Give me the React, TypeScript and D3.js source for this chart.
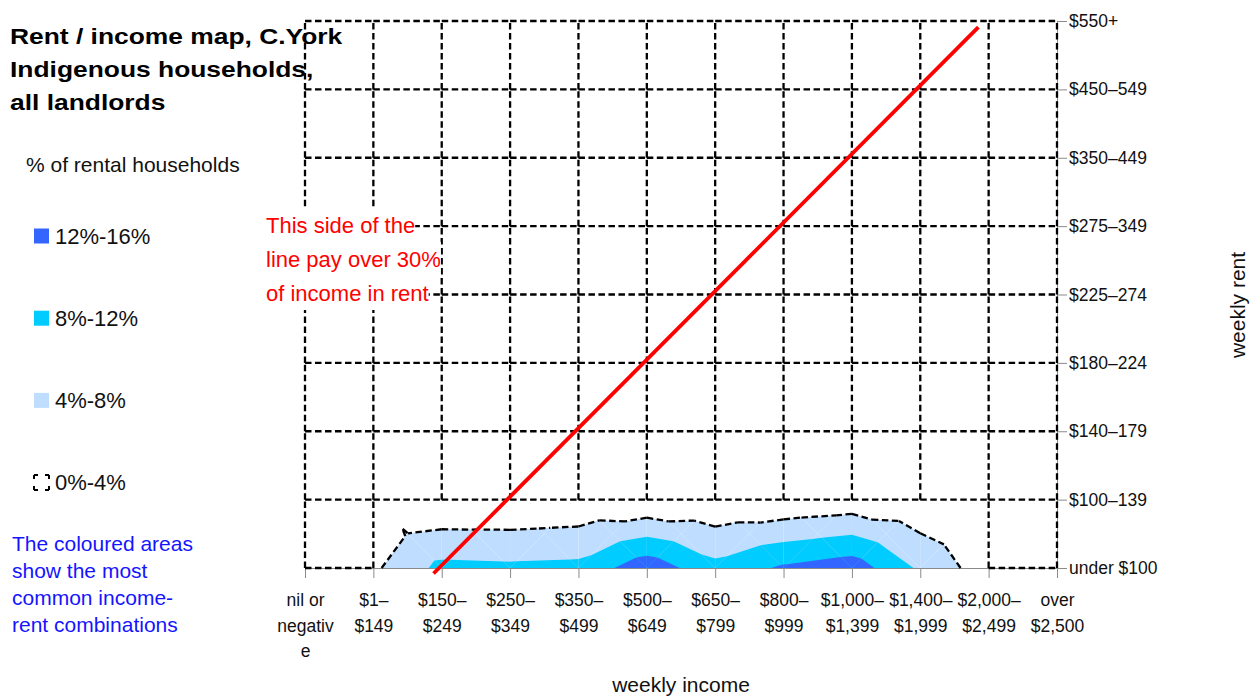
import React, { useEffect, useRef } from "react";
import * as d3 from "d3";

// weekly income bands (x) – each label split into the lines it wraps to
const incomeLabels = [
  ["nil or", "negativ", "e"],
  ["$1–", "$149"],
  ["$150–", "$249"],
  ["$250–", "$349"],
  ["$350–", "$499"],
  ["$500–", "$649"],
  ["$650–", "$799"],
  ["$800–", "$999"],
  ["$1,000–", "$1,399"],
  ["$1,400–", "$1,999"],
  ["$2,000–", "$2,499"],
  ["over", "$2,500"],
];

// weekly rent bands (y), bottom to top
const rentLabels = [
  "under $100",
  "$100–139",
  "$140–179",
  "$180–224",
  "$225–274",
  "$275–349",
  "$350–449",
  "$450–549",
  "$550+",
];

// % of rental households per income band, one array per rent band
const rentUnder100 = [0.6, 3.3, 9.1, 8.8, 9.1, 14.6, 9.2, 12.6, 14.3, 7.3, 1.7, 0.4];
const rent100to139 = [0.2, 3.7, 0.1, 0.2, 0.7, 0.2, 0.6, 0.5, 1.3, 0.8, 0.3, 0.1];
const rent140to179 = [0.1, 0.4, 0.2, 0.3, 0.4, 0.3, 0.2, 0.3, 0.4, 0.2, 0.1, 0.0];
const rent180to224 = [0.0, 0.2, 0.2, 0.2, 0.3, 0.2, 0.2, 0.2, 0.3, 0.2, 0.1, 0.0];
const rent225to274 = [0.0, 0.1, 0.1, 0.2, 0.2, 0.2, 0.1, 0.2, 0.2, 0.1, 0.1, 0.0];
const rent275to349 = [0.0, 0.1, 0.1, 0.1, 0.1, 0.1, 0.1, 0.1, 0.2, 0.1, 0.0, 0.0];
const rent350to449 = [0.0, 0.0, 0.0, 0.1, 0.1, 0.1, 0.1, 0.1, 0.1, 0.1, 0.0, 0.0];
const rent450to549 = [0.0, 0.0, 0.0, 0.0, 0.0, 0.0, 0.1, 0.0, 0.1, 0.0, 0.0, 0.0];
const rent550plus = [0.0, 0.0, 0.0, 0.0, 0.0, 0.0, 0.0, 0.0, 0.0, 0.1, 0.0, 0.0];

// contour bands
const bandLabels = ["12%-16%", "8%-12%", "4%-8%", "0%-4%"];
const bandThresholds = [12, 8, 4, 0];

// the 30% of income line, in (income band, rent band) units
const thirtyPctLine = [
  [1.88, -0.08],
  [9.85, 7.91],
];

const titleLines = ["Rent / income map, C.York", "Indigenous households,", "all landlords"];
const noteLines = ["This side of the", "line pay over 30%", "of income in rent"];
const infoLines = ["The coloured areas", "show the most", "common income-", "rent combinations"];

const FONT = "'Liberation Sans', Arial, Helvetica, sans-serif";

type P = [number, number, number];

export default function App() {
  const ref = useRef<SVGSVGElement>(null);
  const width = 1252;
  const height = 696;

  useEffect(() => {
    const svg = d3.select(ref.current);
    svg.selectAll("*").remove();

    const plot = { left: 305, right: 1057, top: 21, bottom: 568 };
    const nx = incomeLabels.length;
    const ny = rentLabels.length;
    const x = d3.scaleLinear().domain([0, nx - 1]).range([plot.left, plot.right]);
    const y = d3.scaleLinear().domain([0, ny - 1]).range([plot.bottom, plot.top]);

    const grid = [
      rentUnder100, rent100to139, rent140to179, rent180to224, rent225to274,
      rent275to349, rent350to449, rent450to549, rent550plus,
    ];
    const pt = (i: number, j: number): P => [i, j, grid[j][i]];

    // split each cell in four triangles round its centre (average of corners)
    const triangles: P[][] = [];
    for (let j = 0; j < ny - 1; j++) {
      for (let i = 0; i < nx - 1; i++) {
        const a = pt(i, j), b = pt(i + 1, j), c = pt(i + 1, j + 1), d = pt(i, j + 1);
        const mid: P = [i + 0.5, j + 0.5, (a[2] + b[2] + c[2] + d[2]) / 4];
        triangles.push([a, b, mid], [b, c, mid], [c, d, mid], [d, a, mid]);
      }
    }

    const lerp = (p: P, q: P, t: number): P => {
      const f = (t - p[2]) / (q[2] - p[2]);
      return [p[0] + f * (q[0] - p[0]), p[1] + f * (q[1] - p[1]), t];
    };
    const clip = (poly: P[], t: number, above: boolean): P[] => {
      const inside = (p: P) => (above ? p[2] >= t : p[2] < t);
      const out: P[] = [];
      poly.forEach((cur, k) => {
        const nxt = poly[(k + 1) % poly.length];
        if (inside(cur)) out.push(cur);
        if (inside(cur) !== inside(nxt)) out.push(lerp(cur, nxt, t));
      });
      return out;
    };

    const line = d3.line<P | number[]>().x((p) => x(p[0])).y((p) => y(p[1]));

    // ---------- filled bands ----------
    const bandColor: Record<number, string> = { 4: "#bfdeff", 8: "#00ccff", 12: "#3366ff" };
    [4, 8, 12].forEach((t) => {
      svg.append("g")
        .selectAll("path")
        .data(triangles.map((tr) => clip(tr, t, true)).filter((p) => p.length >= 3))
        .join("path")
        .attr("d", (p) => line(p) + "Z")
        .attr("fill", bandColor[t]);
    });

    // ---------- axes ----------
    const xAxis = svg.append("g")
      .attr("transform", `translate(0,${plot.bottom})`)
      .call(d3.axisBottom(x).tickValues(d3.range(nx)).tickSize(10).tickSizeOuter(0).tickFormat(() => ""));
    xAxis.selectAll(".domain, line").attr("stroke", "#8a8a8a");
    xAxis.selectAll(".tick text").remove();
    xAxis.selectAll<SVGGElement, number>(".tick")
      .append("text")
      .attr("fill", "#111")
      .attr("text-anchor", "middle")
      .attr("font-family", FONT)
      .attr("font-size", 17.5)
      .selectAll("tspan")
      .data((d) => incomeLabels[d])
      .join("tspan")
      .attr("x", 0)
      .attr("y", (_, k) => 38 + k * 25.5)
      .text((s) => s);

    const yAxis = svg.append("g")
      .attr("transform", `translate(${plot.right},0)`)
      .call(d3.axisRight(y).tickValues(d3.range(ny)).tickSize(10).tickSizeOuter(0).tickFormat((d) => rentLabels[d as number]));
    yAxis.selectAll(".domain, line").attr("stroke", "#8a8a8a");
    yAxis.attr("font-family", FONT).attr("font-size", 17.5);
    yAxis.selectAll(".tick text").attr("fill", "#111").attr("x", 12);

    // ---------- 0%-4% band: dashed outline of every cell part below 4% ----------
    const dashed: P[][] = [];
    const below = (p: P, q: P) => {
      const s = clip([p, q], 4, false);
      if (p[2] < 4 && q[2] < 4) dashed.push([p, q]);
      else if (s.length === 2) dashed.push(s);
    };
    for (let j = 0; j < ny; j++) for (let i = 0; i < nx - 1; i++) below(pt(i, j), pt(i + 1, j));
    for (let i = 0; i < nx; i++) for (let j = 0; j < ny - 1; j++) below(pt(i, j), pt(i, j + 1));
    triangles.forEach((tr) => {
      const cross: P[] = [];
      tr.forEach((p, k) => {
        const q = tr[(k + 1) % 3];
        if ((p[2] >= 4) !== (q[2] >= 4)) cross.push(lerp(p, q, 4));
      });
      if (cross.length === 2) dashed.push(cross);
    });
    svg.append("g")
      .selectAll("path")
      .data(dashed)
      .join("path")
      .attr("d", (p) => line(p))
      .attr("fill", "none")
      .attr("stroke", "#000")
      .attr("stroke-width", 2.3)
      .attr("stroke-dasharray", "6.5,3.5");

    // ---------- 30% line ----------
    svg.append("path")
      .attr("d", line(thirtyPctLine))
      .attr("stroke", "#ff0000")
      .attr("stroke-width", 3.8)
      .attr("fill", "none");

    // ---------- note in red, on white ----------
    const note = svg.append("g");
    const noteText = note.append("g")
      .attr("font-family", FONT)
      .attr("font-size", 22)
      .attr("fill", "#ff0000");
    noteText.selectAll("text")
      .data(noteLines)
      .join("text")
      .attr("x", 266)
      .attr("y", (_, k) => 233 + k * 34)
      .text((s) => s)
      .each(function (_, k) {
        const w = (this as SVGTextElement).getComputedTextLength();
        note.insert("rect", ":first-child")
          .attr("x", 262)
          .attr("y", 208 + k * 34)
          .attr("width", w + 4)
          .attr("height", 34)
          .attr("fill", "#fff");
      });

    // ---------- title ----------
    svg.append("g")
      .attr("transform", "translate(10,0) scale(1.2,1)")
      .attr("font-family", FONT)
      .attr("font-weight", "bold")
      .attr("font-size", 22)
      .attr("fill", "#000")
      .selectAll("text")
      .data(titleLines)
      .join("text")
      .attr("x", 0)
      .attr("y", (_, k) => 44 + k * 33)
      .text((s) => s);

    // ---------- legend ----------
    svg.append("text")
      .attr("x", 26)
      .attr("y", 172)
      .attr("font-family", FONT)
      .attr("font-size", 21)
      .attr("fill", "#111")
      .text("% of rental households");

    const legend = svg.append("g").attr("font-family", FONT).attr("font-size", 22).attr("fill", "#111");
    const row = legend.selectAll("g")
      .data(bandThresholds)
      .join("g")
      .attr("transform", (_, k) => `translate(34,${228.5 + k * 82.2})`);
    row.append("rect")
      .attr("width", 15)
      .attr("height", 15)
      .attr("fill", (t) => (t === 0 ? "none" : bandColor[t]))
      .attr("stroke", (t) => (t === 0 ? "#000" : "none"))
      .attr("stroke-width", 2)
      .attr("stroke-dasharray", "4 7 4 0");
    row.append("text")
      .attr("x", 21)
      .attr("y", 15)
      .text((_, k) => bandLabels[k]);

    svg.append("g")
      .attr("font-family", FONT)
      .attr("font-size", 21)
      .attr("fill", "#1414ff")
      .selectAll("text")
      .data(infoLines)
      .join("text")
      .attr("x", 12)
      .attr("y", (_, k) => 551 + k * 27)
      .text((s) => s);

    // ---------- axis titles ----------
    svg.append("text")
      .attr("x", 681)
      .attr("y", 692)
      .attr("text-anchor", "middle")
      .attr("font-family", FONT)
      .attr("font-size", 21)
      .attr("fill", "#111")
      .text("weekly income");
    svg.append("text")
      .attr("transform", "translate(1245,305) rotate(-90)")
      .attr("text-anchor", "middle")
      .attr("font-family", FONT)
      .attr("font-size", 21)
      .attr("fill", "#111")
      .text("weekly rent");
  }, []);

  return (
    <svg
      ref={ref}
      width={width}
      height={height}
      style={{ position: "absolute", left: 0, top: 0, background: "#fff" }}
    />
  );
}
